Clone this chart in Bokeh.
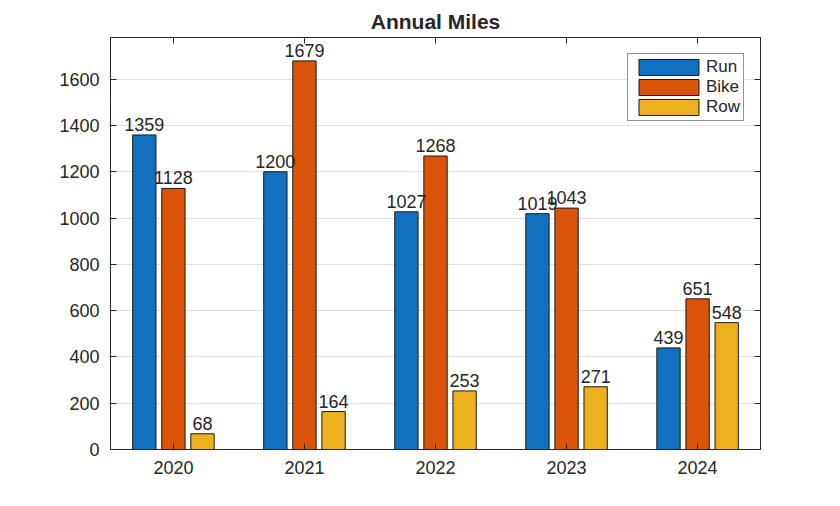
from bokeh.plotting import figure
from bokeh.models import (ColumnDataSource, Range1d, FixedTicker, LinearAxis,
                          Legend, LegendItem, LabelSet)
from bokeh.transform import dodge
from bokeh.core.properties import value
from bokeh.embed import file_html
from bokeh.resources import INLINE

years = [2020, 2021, 2022, 2023, 2024]
run = [1359, 1200, 1027, 1019, 439]
bike = [1128, 1679, 1268, 1043, 651]
row = [68, 164, 253, 271, 548]
y_ticks = [0, 200, 400, 600, 800, 1000, 1200, 1400, 1600]
series_names = ["Run", "Bike", "Row"]

colors = ["#1170BF", "#D95308", "#EDB120"]
dark = "#262626"
FONT = "Liberation Sans"

src = ColumnDataSource(dict(year=years, Run=run, Bike=bike, Row=row,
                            Run_t=[str(v) for v in run],
                            Bike_t=[str(v) for v in bike],
                            Row_t=[str(v) for v in row]))

p = figure(width=832, height=498, output_backend="svg", toolbar_location=None,
           x_range=Range1d(2019.52, 2024.48), y_range=Range1d(0, 1780),
           min_border_left=110, min_border_right=72, min_border_top=37,
           min_border_bottom=49, title="Annual Miles")
p.background_fill_color = "white"
p.border_fill_color = "white"
p.outline_line_color = dark
p.outline_line_width = 1

p.title.align = "center"
p.title.text_font = FONT
p.title.text_font_size = "21px"
p.title.text_font_style = "bold"
p.title.text_color = dark
p.title.standoff = 10
p.title.offset = 0

offsets = [-0.222, 0.0, 0.222]
renderers = []
for name, off, col in zip(series_names, offsets, colors):
    r = p.vbar(x=dodge("year", off, range=p.x_range), top=name, width=0.178,
               source=src, fill_color=col, line_color="#1a1a1a", line_width=1)
    renderers.append(r)
    lbl = LabelSet(x=dodge("year", off, range=p.x_range), y=name,
                   text=name + "_t", source=src, text_align="center",
                   text_baseline="bottom", y_offset=4, text_font=value(FONT),
                   text_font_size=value("18px"), text_color=dark)
    p.add_layout(lbl)

# axes
for ax in [p.xaxis[0], p.yaxis[0]]:
    ax.axis_line_color = dark
    ax.major_tick_line_color = dark
    ax.major_tick_in = 6
    ax.major_tick_out = 0
    ax.minor_tick_line_color = None
    ax.major_label_text_font = FONT
    ax.major_label_text_font_size = "18px"
    ax.major_label_text_color = dark

p.xaxis.ticker = FixedTicker(ticks=years)
p.xaxis.major_label_overrides = {y: str(y) for y in years}
p.xaxis.major_label_standoff = 11
p.yaxis.ticker = FixedTicker(ticks=y_ticks)
p.yaxis.major_label_standoff = 11

top_ax = LinearAxis(ticker=FixedTicker(ticks=years), major_tick_in=6,
                    major_tick_out=0, minor_tick_line_color=None,
                    major_label_text_font_size="1px", major_label_text_color=None,
                    major_label_standoff=0,
                    axis_line_color=dark, major_tick_line_color=dark)
right_ax = LinearAxis(ticker=FixedTicker(ticks=y_ticks), major_tick_in=6,
                      major_tick_out=0, minor_tick_line_color=None,
                      major_label_text_font_size="1px", major_label_text_color=None,
                      major_label_standoff=0,
                      axis_line_color=dark, major_tick_line_color=dark)
p.add_layout(top_ax, "above")
p.add_layout(right_ax, "right")

p.xgrid.grid_line_color = None
p.ygrid.ticker = FixedTicker(ticks=y_ticks)
p.ygrid.grid_line_color = dark
p.ygrid.grid_line_alpha = 0.15

legend = Legend(items=[LegendItem(label=n, renderers=[r]) for n, r in zip(series_names, renderers)],
                location="top_right", glyph_width=75, glyph_height=20,
                label_height=20, label_standoff=0, spacing=0, padding=3,
                margin=16, border_line_color=dark, border_line_width=1,
                label_text_font=FONT, label_text_font_size="17px",
                label_text_color=dark, background_fill_alpha=1.0)
p.add_layout(legend)

open("out.html", "w").write(file_html(p, INLINE))
